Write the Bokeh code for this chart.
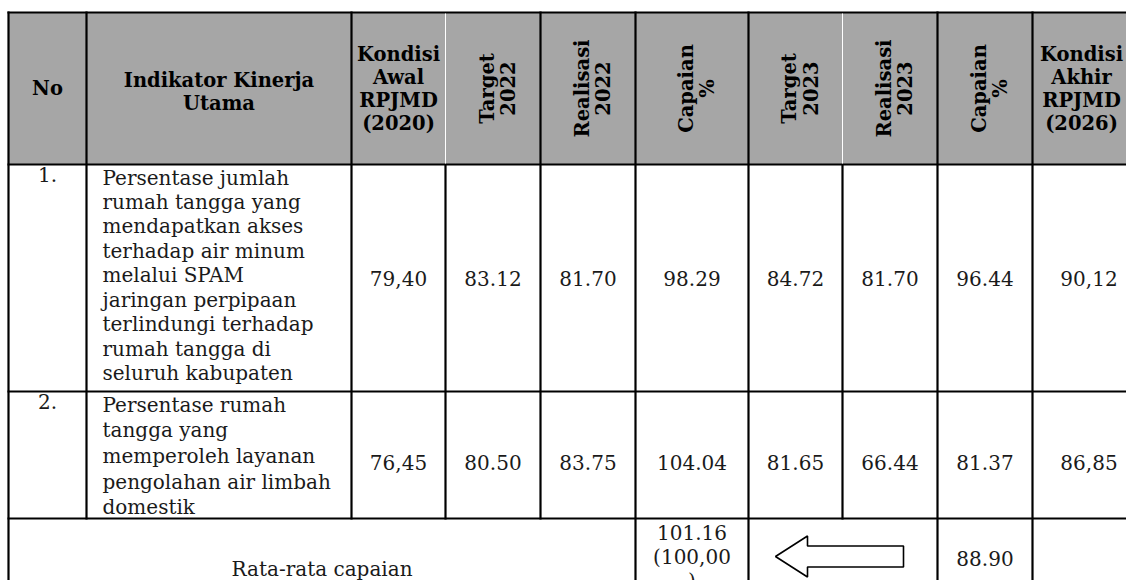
import numpy as np
from bokeh.plotting import figure
from bokeh.models import Range1d
from bokeh.core.properties import value
from bokeh.embed import file_html
from bokeh.resources import INLINE

# ---------------- data ----------------
headers = ["No", "Indikator Kinerja\nUtama", "Kondisi\nAwal\nRPJMD\n(2020)",
           "Target\n2022", "Realisasi\n2022", "Capaian\n%",
           "Target\n2023", "Realisasi\n2023", "Capaian\n%",
           "Kondisi\nAkhir\nRPJMD\n(2026)"]
header_rotated = [False, False, False, True, True, True, True, True, True, False]
numbers = ["1.", "2."]
indicators = [
    "Persentase jumlah\nrumah tangga yang\nmendapatkan akses\nterhadap air minum\nmelalui SPAM\n"
    "jaringan perpipaan\nterlindungi terhadap\nrumah tangga di\nseluruh kabupaten",
    "Persentase rumah\ntangga yang\nmemperoleh layanan\npengolahan air limbah\ndomestik",
]
kondisi_awal = ["79,40", "76,45"]
target_2022 = ["83.12", "80.50"]
realisasi_2022 = ["81.70", "83.75"]
capaian_2022 = ["98.29", "104.04"]
target_2023 = ["84.72", "81.65"]
realisasi_2023 = ["81.70", "66.44"]
capaian_2023 = ["96.44", "81.37"]
kondisi_akhir = ["90,12", "86,85"]
avg_label = "Rata-rata capaian"
avg_capaian_2022 = "101.16\n(100,00\n)"
avg_capaian_2023 = "88.90"

# ---------------- layout ----------------
W, H = 1126, 580
col_edges = [8, 86, 351, 445, 540, 635, 748, 842, 937, 1032, 1145]
row_edges = [12, 164, 391, 518, 600]
HEADER_BG = "#a6a6a6"
FONT = value("DejaVu Serif")
BODY_SIZE = "20px"
HEAD_SIZE = "19.5px"
TXT = "#1a1a1a"

p = figure(width=W, height=H, x_range=Range1d(0, W), y_range=Range1d(H, 0),
           x_axis_type=None, y_axis_type=None, toolbar_location=None,
           output_backend="svg", min_border=0, outline_line_color=None,
           background_fill_color="white")
p.grid.visible = False

# header background
p.quad(left=[col_edges[0]], right=[col_edges[-1]], top=[row_edges[0]], bottom=[row_edges[1]],
       fill_color=HEADER_BG, line_color=None)

# grid lines
x0s, x1s, y0s, y1s = [], [], [], []
for y in row_edges[:4]:
    x0s.append(col_edges[0] - 1); x1s.append(col_edges[-1]); y0s.append(y); y1s.append(y)
full_cols = [0, 5, 6, 8, 9, 10]        # continue into the last row
upper_cols = [1, 2, 4]                 # header + data rows
body_cols = [3, 7]                     # data rows only (header shows a white gap)
for i in full_cols:
    x0s.append(col_edges[i]); x1s.append(col_edges[i]); y0s.append(row_edges[0] - 1); y1s.append(row_edges[4])
for i in upper_cols:
    x0s.append(col_edges[i]); x1s.append(col_edges[i]); y0s.append(row_edges[0] - 1); y1s.append(row_edges[3] + 1)
for i in body_cols:
    x0s.append(col_edges[i]); x1s.append(col_edges[i]); y0s.append(row_edges[1]); y1s.append(row_edges[3] + 1)
p.segment(x0=x0s, x1=x1s, y0=y0s, y1=y1s, line_color="black", line_width=2.2)
# thin white separators inside the header
wx = [col_edges[3], col_edges[7]]
p.segment(x0=wx, x1=wx, y0=[row_edges[0] + 1] * 2, y1=[row_edges[1] - 1] * 2,
          line_color="white", line_width=1)

# header texts
cx = [(col_edges[i] + col_edges[i + 1]) / 2 for i in range(len(col_edges) - 1)]
hy = (row_edges[0] + row_edges[1]) / 2
flat_idx = [i for i in range(len(headers)) if not header_rotated[i]]
rot_idx = [i for i in range(len(headers)) if header_rotated[i]]
# last column runs past the visible edge: keep its header inside the picture
flat_x = [min(cx[i], W - 45) for i in flat_idx]
p.text(x=flat_x, y=[hy + (3 if i == 1 else 0) for i in flat_idx],
       text=[headers[i] for i in flat_idx],
       text_font=FONT, text_font_size=HEAD_SIZE, text_font_style="bold",
       text_align="center", text_baseline="middle", text_line_height=1.0, text_color="black")
p.text(x=[cx[i] + 5 for i in rot_idx], y=[hy] * len(rot_idx), text=[headers[i] for i in rot_idx],
       angle=np.pi / 2,
       text_font=FONT, text_font_size=HEAD_SIZE, text_font_style="bold",
       text_align="center", text_baseline="middle", text_line_height=0.95, text_color="black")

# body rows
row_tops = [row_edges[1], row_edges[2]]
value_y = [278, 462]
p.text(x=[cx[0]] * 2, y=[t + 2 for t in row_tops], text=numbers, text_font=FONT,
       text_font_size=BODY_SIZE, text_align="center", text_baseline="top", text_color=TXT)
p.text(x=[col_edges[1] + 16], y=[row_tops[0] + 1], text=[indicators[0]], text_font=FONT,
       text_font_size=BODY_SIZE, text_align="left", text_baseline="top",
       text_line_height=1.02, text_color=TXT)
p.text(x=[col_edges[1] + 16], y=[row_tops[1] + 1], text=[indicators[1]], text_font=FONT,
       text_font_size=BODY_SIZE, text_align="left", text_baseline="top",
       text_line_height=1.07, text_color=TXT)
cols_vals = [kondisi_awal, target_2022, realisasi_2022, capaian_2022,
             target_2023, realisasi_2023, capaian_2023, kondisi_akhir]
xs, ys, ts = [], [], []
for j, vals in enumerate(cols_vals):
    for r in range(2):
        xs.append(cx[j + 2]); ys.append(value_y[r]); ts.append(vals[r])
p.text(x=xs, y=ys, text=ts, text_font=FONT, text_font_size=BODY_SIZE,
       text_align="center", text_baseline="middle", text_color=TXT)

# last row
p.text(x=[(col_edges[0] + col_edges[5]) / 2], y=[568], text=[avg_label], text_font=FONT,
       text_font_size=BODY_SIZE, text_align="center", text_baseline="middle", text_color=TXT)
p.text(x=[cx[5]], y=[row_edges[3] + 2], text=[avg_capaian_2022], text_font=FONT,
       text_font_size=BODY_SIZE, text_align="center", text_baseline="top",
       text_line_height=1.0, text_color=TXT)
p.text(x=[cx[8]], y=[558], text=[avg_capaian_2023], text_font=FONT,
       text_font_size=BODY_SIZE, text_align="center", text_baseline="middle", text_color=TXT)

# block arrow pointing left (from 2023 capaian to 2022 capaian)
ax_tip, ax_base, ax_end, ay = col_edges[6] + 27, col_edges[6] + 59, col_edges[6] + 155, 556
hh, sh = 20.5, 10.5
p.patch(x=[ax_tip, ax_base, ax_base, ax_end, ax_end, ax_base, ax_base],
        y=[ay, ay - hh, ay - sh, ay - sh, ay + sh, ay + sh, ay + hh],
        fill_color="white", line_color="black", line_width=1.6)

open("out.html", "w").write(file_html(p, INLINE))
